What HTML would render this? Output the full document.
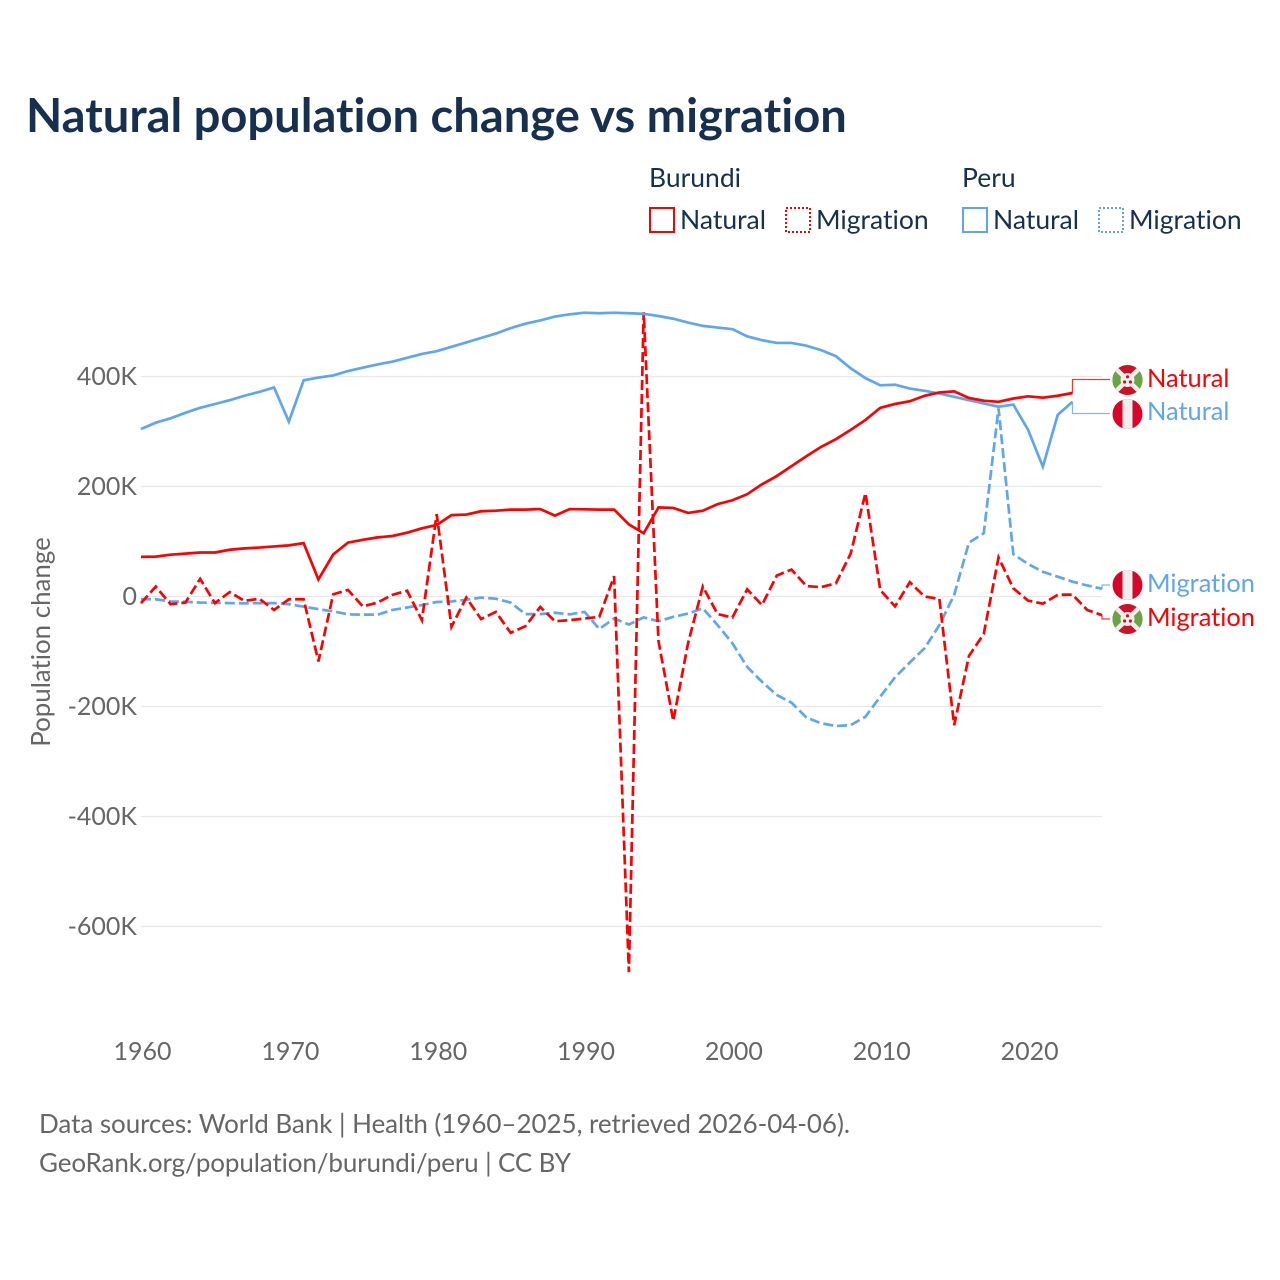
<!DOCTYPE html>
<html lang="en">
<head>
<meta charset="utf-8">
<title>Natural population change vs migration</title>
<style>
html,body{margin:0;padding:0;background:#fff;}
svg{display:block;}
text{font-family:"Lato","Carlito","Liberation Sans",sans-serif;font-variant-ligatures:none;}
</style>
</head>
<body>
<svg id="chart" xmlns="http://www.w3.org/2000/svg" width="1280" height="1280" viewBox="0 0 1280 1280">
  <defs>
    <clipPath id="flag-clip-a"><circle cx="1127.5" cy="380" r="15"/></clipPath>
    <clipPath id="flag-clip-b"><circle cx="1127.5" cy="414" r="15"/></clipPath>
    <clipPath id="flag-clip-c"><circle cx="1127.5" cy="585" r="15"/></clipPath>
    <clipPath id="flag-clip-d"><circle cx="1127.5" cy="619" r="15"/></clipPath>
  </defs>
  <rect x="0" y="0" width="1280" height="1280" fill="#ffffff"/>
  <text x="26" y="132" font-size="47.1" font-weight="700" fill="#17304f">Natural population change vs migration</text>

  <g font-size="26.5" fill="#17304f">
    <text x="649" y="187">Burundi</text>
    <text x="962" y="187">Peru</text>
    <rect x="650" y="208" width="24" height="24" fill="none" stroke="#ff0000" stroke-width="2"/>
    <text x="680" y="229">Natural</text>
    <rect x="786" y="208" width="24" height="24" fill="none" stroke="#ff0000" stroke-width="2" stroke-dasharray="2 2"/>
    <text x="816" y="229">Migration</text>
    <rect x="963" y="208" width="24" height="24" fill="none" stroke="#5ea6ee" stroke-width="2"/>
    <text x="993" y="229">Natural</text>
    <rect x="1099" y="208" width="24" height="24" fill="none" stroke="#5ea6ee" stroke-width="2" stroke-dasharray="2 2"/>
    <text x="1129" y="229">Migration</text>
  </g>

  <g id="grid"></g>
  <g id="yticks"></g>
  <g id="xticks"></g>
  <text transform="translate(50 642) rotate(-90)" text-anchor="middle" font-size="25.9" fill="#666666">Population change</text>
  <g id="series"></g>

  <g clip-path="url(#flag-clip-a)">
    <rect x="1112" y="365" width="31" height="31" fill="#ce1126"/>
    <path d="M1112 365L1127.5 380L1112 395ZM1143 365L1127.5 380L1143 395Z" fill="#6aa544"/>
    <path d="M1112 365L1143 395M1143 365L1112 395" stroke="#eeeeee" stroke-width="4.5"/>
    <circle cx="1127.5" cy="380" r="7" fill="#eeeeee"/>
    <circle cx="1127.5" cy="376.8" r="1.6" fill="#ce1126"/><circle cx="1124.6" cy="382" r="1.6" fill="#ce1126"/><circle cx="1130.4" cy="382" r="1.6" fill="#ce1126"/>
  </g>
  <g clip-path="url(#flag-clip-b)">
    <rect x="1112" y="399" width="31" height="31" fill="#d90429"/>
    <rect x="1122.5" y="399" width="10" height="31" fill="#eeeeee"/>
  </g>
  <g clip-path="url(#flag-clip-c)">
    <rect x="1112" y="570" width="31" height="31" fill="#d90429"/>
    <rect x="1122.5" y="570" width="10" height="31" fill="#eeeeee"/>
  </g>
  <g clip-path="url(#flag-clip-d)">
    <rect x="1112" y="604" width="31" height="31" fill="#ce1126"/>
    <path d="M1112 604L1127.5 619L1112 634ZM1143 604L1127.5 619L1143 634Z" fill="#6aa544"/>
    <path d="M1112 604L1143 634M1143 604L1112 634" stroke="#eeeeee" stroke-width="4.5"/>
    <circle cx="1127.5" cy="619" r="7" fill="#eeeeee"/>
    <circle cx="1127.5" cy="615.8" r="1.6" fill="#ce1126"/><circle cx="1124.6" cy="621" r="1.6" fill="#ce1126"/><circle cx="1130.4" cy="621" r="1.6" fill="#ce1126"/>
  </g>

  <g font-size="25.4">
    <text x="1147" y="387" fill="#ff0000">Natural</text>
    <text x="1147" y="420" fill="#5ea6ee">Natural</text>
    <text x="1147" y="592" fill="#5ea6ee">Migration</text>
    <text x="1147" y="626" fill="#ff0000">Migration</text>
  </g>

  <g font-size="26" fill="#666666">
    <text x="39" y="1133" textLength="811" lengthAdjust="spacing">Data sources: World Bank | Health (1960–2025, retrieved 2026-04-06).</text>
    <text x="39" y="1172" textLength="532" lengthAdjust="spacing">GeoRank.org/population/burundi/peru | CC BY</text>
  </g>
</svg>
<script>
var startYear = 1960;
var xTickYears = [1960, 1970, 1980, 1990, 2000, 2010, 2020];
var yTickValues = [400, 200, 0, -200, -400, -600];
var yTickLabels = ["400K", "200K", "0", "-200K", "-400K", "-600K"];

// Values in thousands, one per year starting at startYear
var peruNatural = [304.5,316,324,334,343,350,357,365,372,380,318,393,398,402,410,416,422,427,434,441,446,454,462,470,478,488,496,502,509,513,516,515,516,515,514,510,505,498,492,489,486,473,466,461,461,456,448,437,415,397,384,385,378,374,369,363,357,351,345,349,303,236,330,354];
var burundiNatural = [72,72.5,76,78,80,80,85,87.5,89,91,93,97,31,76.5,98,103,107.5,110,116,124,130,148,149,155,156,158,158,159,147,159,158.5,158,158,131,115,162,161,152,156,168,175,186,204,219,237,255,272,286,303,321,343,350,355,365,371,373,361,356,354,360,364,361.5,365,370];
var peruMigration = [-5,-5,-9,-9.5,-11,-11.5,-12,-12.5,-12,-12,-14,-18.5,-23,-27,-32.5,-33,-33,-24.5,-20,-15.5,-10,-9,-6,-2,-4,-11,-32,-32,-29.5,-32.5,-28,-59,-40,-51,-38,-45,-37,-31,-21.5,-52,-85,-128,-155,-179,-193,-220,-230.5,-235.5,-234,-218.5,-182,-147,-120,-94,-52,3,98,115,342,77,59,45,36,27,20,14];
var burundiMigration = [-12,18,-14,-11,32,-12,8,-8,-4,-24.5,-5,-5,-118,4,12,-18,-11,3,10.5,-43,150,-55,-2,-41,-28,-66,-54,-19,-45,-43,-40,-37,37,-683,517,-81,-226,-85,18,-32,-38,13,-15.5,38,49,19,17,24,78,188,12,-18,26,0,-4.5,-234,-108,-68,71,15,-7.5,-13,3,3.5,-24.5,-34];

function xScale(year) { return 141 + (year - 1960) * 14.785; }
function yScale(value) { return 596.5 - value * 0.55; }

var svgNS = "http://www.w3.org/2000/svg";
var grid = document.getElementById("grid");
var yticks = document.getElementById("yticks");
var xticks = document.getElementById("xticks");
var seriesGroup = document.getElementById("series");

yTickValues.forEach(function (v, i) {
  var line = document.createElementNS(svgNS, "line");
  
  
  line.setAttribute("x1", 141);
  line.setAttribute("x2", 1102);
  line.setAttribute("y1", yScale(v));
  line.setAttribute("y2", yScale(v));
  line.setAttribute("stroke", "#e8e8e8");
  line.setAttribute("stroke-width", "1.2");
  grid.appendChild(line);
  var t = document.createElementNS(svgNS, "text");
  
  
  t.setAttribute("x", 137);
  t.setAttribute("y", yScale(v) + 8.5);
  t.setAttribute("text-anchor", "end");
  t.setAttribute("font-size", "25");
  t.setAttribute("fill", "#666666");
  t.textContent = yTickLabels[i];
  yticks.appendChild(t);
});

xTickYears.forEach(function (year) {
  var t = document.createElementNS(svgNS, "text");
  
  
  t.setAttribute("x", xScale(year) + 1.5);
  t.setAttribute("y", 1060);
  t.setAttribute("text-anchor", "middle");
  t.setAttribute("font-size", "25");
  t.setAttribute("fill", "#666666");
  t.textContent = String(year);
  xticks.appendChild(t);
});

function drawSeries(values, color, dashed, labelY, seriesName) {
  var pts = values.map(function (v, i) {
    return xScale(startYear + i).toFixed(2) + "," + yScale(v).toFixed(2);
  });
  var line = document.createElementNS(svgNS, "polyline");
  
  
  line.setAttribute("points", pts.join(" "));
  line.setAttribute("fill", "none");
  line.setAttribute("stroke", color);
  line.setAttribute("stroke-width", "2.7");
  line.setAttribute("stroke-linejoin", "miter");
  if (dashed) { line.setAttribute("stroke-dasharray", "10 4"); }
  seriesGroup.appendChild(line);

  var lastX = xScale(startYear + values.length - 1);
  var lastY = yScale(values[values.length - 1]);
  var conn = document.createElementNS(svgNS, "polyline");
  
  
  conn.setAttribute("points", lastX + "," + lastY + " " + lastX + "," + labelY + " 1110," + labelY);
  conn.setAttribute("fill", "none");
  conn.setAttribute("stroke", color);
  conn.setAttribute("stroke-width", "1.2");
  conn.setAttribute("stroke-opacity", "0.8");
  seriesGroup.appendChild(conn);
}

drawSeries(peruMigration, "#5ea6ee", true, 585, "line-peru-migration");
drawSeries(burundiMigration, "#ff0000", true, 619, "line-burundi-migration");
drawSeries(peruNatural, "#5ea6ee", false, 413.5, "line-peru-natural");
drawSeries(burundiNatural, "#ff0000", false, 379.5, "line-burundi-natural");
</script>
</body>
</html>
